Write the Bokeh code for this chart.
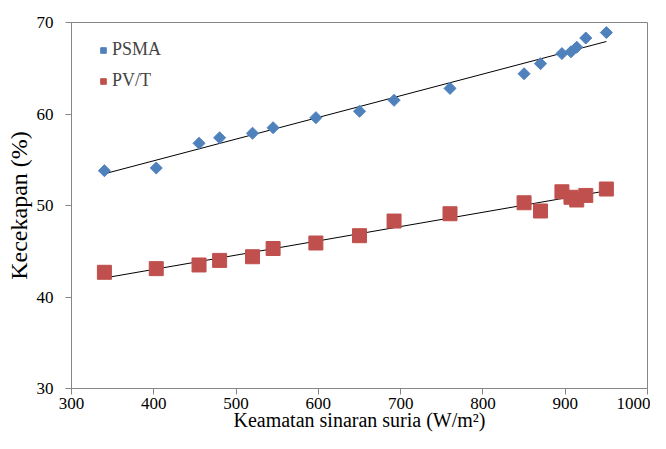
import numpy as np
from bokeh.plotting import figure
from bokeh.models import FixedTicker, Range1d, Legend, LegendItem
from bokeh.embed import file_html
from bokeh.resources import INLINE

irradiance = [340, 403, 455, 480, 520, 545, 597, 650, 692, 760, 850, 870, 896, 907, 914, 925, 950]
psma = [53.8, 54.1, 56.8, 57.4, 57.9, 58.5, 59.6, 60.3, 61.5, 62.8, 64.4, 65.5, 66.6, 66.8, 67.3, 68.3, 68.9]
pvt = [42.7, 43.1, 43.5, 44.0, 44.4, 45.3, 45.9, 46.7, 48.3, 49.1, 50.3, 49.4, 51.5, 50.9, 50.6, 51.1, 51.8]
x_ticks = [300, 400, 500, 600, 700, 800, 900, 1000]
y_ticks = [30, 40, 50, 60, 70]

FONT = "Liberation Serif"
BLUE = "#4F81BD"
RED = "#C0504D"

p = figure(width=650, height=433, output_backend="svg", toolbar_location=None,
           x_range=Range1d(300, 1000), y_range=Range1d(30, 70),
           min_border_left=71, min_border_right=3, min_border_top=22, min_border_bottom=30)

p.xgrid.visible = False
p.ygrid.visible = False
p.outline_line_color = "#868686"
p.outline_line_width = 1
p.background_fill_color = "white"
p.border_fill_color = "white"

for ax in (p.xaxis[0], p.yaxis[0]):
    ax.axis_line_color = "#868686"
    ax.major_tick_line_color = "#868686"
    ax.minor_tick_line_color = None
    ax.major_tick_out = 6
    ax.major_tick_in = 0
    ax.major_label_text_font = FONT
    ax.major_label_text_font_size = "17px"
    ax.major_label_text_color = "black"
    ax.axis_label_text_font = FONT
    ax.axis_label_text_font_style = "normal"
    ax.axis_label_text_color = "black"

p.xaxis.axis_label_text_font_size = "20px"
p.yaxis.axis_label_text_font_size = "24px"
p.xaxis.ticker = FixedTicker(ticks=x_ticks)
p.yaxis.ticker = FixedTicker(ticks=y_ticks)
p.xaxis.axis_label = "Keamatan sinaran suria (W/m²)"
p.yaxis.axis_label = "Kecekapan (%)"
p.xaxis.major_label_standoff = 3
p.xaxis.axis_label_standoff = -3
p.yaxis.major_label_standoff = 12
p.yaxis.axis_label_standoff = 2

xa = np.array(irradiance, dtype=float)
for ys in (psma, pvt):
    k, b = np.polyfit(xa, np.array(ys), 1)
    xs = [xa.min(), xa.max()]
    p.line(xs, [k * v + b for v in xs], line_color="black", line_width=1)

r1 = p.scatter(irradiance, psma, marker="square", angle=np.pi / 4, size=8.5,
               fill_color=BLUE, line_color=BLUE)
r2 = p.scatter(irradiance, pvt, marker="square", size=14,
               fill_color=RED, line_color=RED)

legend = Legend(items=[LegendItem(label="PSMA", renderers=[r1]),
                       LegendItem(label="PV/T", renderers=[r2])],
                location=(25, 297), margin=0, padding=0, spacing=10,
                glyph_width=14, glyph_height=20, label_height=20, label_standoff=2,
                label_text_font=FONT, label_text_font_size="18px",
                border_line_color=None, background_fill_alpha=0)
p.add_layout(legend, "center")

open("out.html", "w").write(file_html(p, INLINE))
